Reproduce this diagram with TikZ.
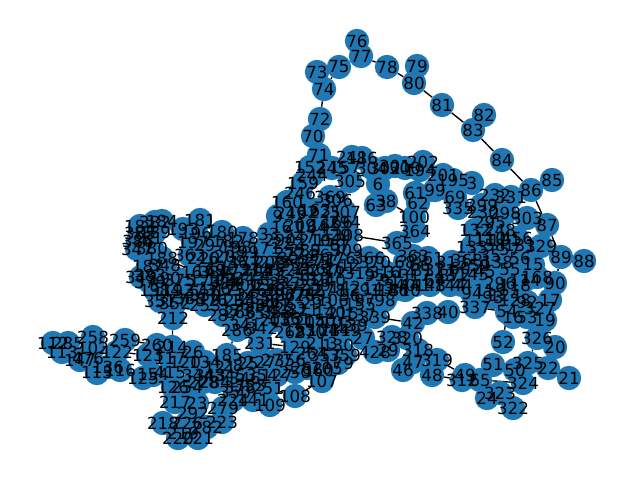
\documentclass[tikz,border=0pt]{standalone}
\usepackage{fontspec}
\setmainfont{DejaVu Sans}
\usetikzlibrary{backgrounds}
\definecolor{nxblue}{HTML}{1F78B4}
\tikzset{
  dot/.style={circle,fill=nxblue,draw=none,minimum size=24.4pt,inner sep=0pt},
  lbl/.style={inner sep=0pt,font=\fontsize{16.67}{17}\selectfont,text=black},
  edge/.style={draw=black,line width=1.35pt}
}
\def\nodelist{76/357/41,77/361/56,78/387/67,79/417/66,80/414/83,81/442/105,82/484/115,83/473/130,84/502/160,75/339/67,73/317/72,74/324/89,72/320/119,70/313/136,71/319/155,
85/552/180,86/531/190,87/547/225,303/527/218,88/584/261,89/561/257,90/555/283,329/541/246,331/511/197,298/505/213,
17/550/300,327/540/308,19/545/320,20/555/347,21/569/378,22/548/368,326/537/338,325/528/363,324/523/383,322/513/408,323/500/393,24/487/398,51/493/365,52/503/342,50/515/370,49/465/375,312/462/380,65/480/380,48/432/375,46/403/370,319/437/360,318/418/350,47/413/362,42/413/323,338/427/313,40/448/312,337/475/307,93/493/297,94/472/293,54/507/312,16/513/317,53/527/317,92/527/302,168/537/277,15/533/265,296/500/283,145/473/275,144/450/285,
184/162/221,181/200/220,183/140/226,385/140/233,386/138/241,347/137/249,189/155/232,193/183/229,196/196/233,197/193/242,180/222/232,182/228/241,198/236/247,199/243/252,178/243/238,
188/162/258,348/165/265,187/148/266,349/141/277,190/165/278,191/155/290,192/178/290,351/160/301,352/175/303,212/173/318,253/205/305,216/203/258,
167/197/272,169/210/270,170/222/268,172/235/270,173/205/281,174/222/280,175/230/291,176/215/288,177/245/262,200/245/285,205/258/270,206/270/262,207/215/258,208/230/256,
112/53/343,285/68/343,258/93/337,259/125/340,122/117/352,123/148/355,260/157/345,214/172/347,113/62/352,102/93/348,147/80/360,476/88/358,115/97/373,136/108/367,116/120/370,125/143/378,154/153/375,415/170/373,117/170/358,120/185/362,26/193/352,134/205/362,185/227/355,121/220/367,
126/173/387,217/175/402,218/163/423,254/187/387,228/203/382,284/215/382,23/197/403,279/223/408,292/193/413,223/222/422,282/207/427,226/187/423,220/178/438,221/198/438,219/183/433,
152/310/167,245/332/168,157/345/168,241/352/157,186/362/158,244/312/175,159/303/183,246/300/193,305/350/181,369/330/197,306/337/200,307/345/212,160/287/202,6/378/184,304/372/168,302/385/168,301/395/166,202/423/162,194/420/170,300/405/168,201/443/175,195/453/180,99/435/190,61/415/193,62/418/203,38/386/201,63/376/205,100/414/217,364/415/231,365/397/243,69/455/197,335/458/208,3/472/183,232/495/195,230/483/212,299/482/205,132/475/230,295/490/222,248/500/230,456/517/238,133/472/247,135/485/255,138/497/262,368/467/260,313/452/262,363/413/256,361/428/258,
9/278/216,249/291/213,161/287/227,33/269/234,247/300/237,171/265/248,308/348/235,309/347/250,366/369/258,164/312/227,165/325/225,166/337/222,67/340/245,367/325/255,162/302/212,163/315/210,
315/360/273,314/400/272,316/385/272,370/375/262,317/415/275,311/428/270,371/440/270,372/455/275,142/345/287,291/365/290,143/378/288,146/393/290,310/405/290,340/400/285,441/415/285,148/430/285,
286/237/330,231/260/343,287/223/315,355/260/313,358/277/312,233/290/308,321/303/310,203/275/320,204/310/322,268/290/332,270/310/332,104/323/330,281/335/330,149/345/330,103/337/322,215/343/313,155/360/305,339/375/317,27/363/338,428/375/352,29/388/350,
328/392/337,320/407/338,106/333/300,293/317/303,387/280/295,374/300/293,129/295/347,264/312/353,213/322/343,130/338/345,179/338/363,105/327/368,262/307/368,250/295/372,107/322/381,108/295/396,127/277/375,251/268/388,109/270/405,141/253/400,277/277/360,227/260/362,25/248/363,28/233/365,378/240/387,224/233/400,
211/225/300,234/240/300,235/255/298,236/270/285,237/285/283,238/300/280,239/315/285,240/330/280,242/250/278,243/265/275,252/280/270,255/295/265,256/310/268,257/325/270,261/340/268,263/262/290,265/275/300,266/240/312,267/290/295,269/310/295,271/320/260,272/290/253,273/275/262,274/300/255,275/315/262,276/340/258,278/330/290,
1/255/258,4/268/270,5/282/278,7/295/288,8/305/275,10/320/278,11/335/272,12/350/265,13/260/285,14/245/295,18/275/290,30/288/258,31/302/268,32/312/290,34/235/280,35/225/275,36/238/262,37/250/270,39/265/305,41/280/305,43/445/275,44/462/285,45/485/272,55/510/270,56/520/258,57/510/250,58/495/245,59/480/265,60/460/268,64/435/280,66/420/265,68/405/262,91/390/280,95/375/275,96/350/295,97/365/300,98/385/300,101/505/240,110/490/238,111/480/240,114/525/280,118/515/285,119/490/290,124/505/295,128/515/300,131/520/245,137/360/315,139/352/325,140/330/312,150/320/320,151/295/320,153/300/330,156/285/318,158/330/240,
209/300/225,210/315/240,222/288/243,225/325/212,229/335/235,289/305/250,290/280/240,294/345/222,
297/210/245,330/205/295,388/190/298,332/215/272,333/235/310,334/225/283,336/250/305,341/245/325,342/262/328,343/210/375,344/198/375,345/230/375,346/245/378,350/235/392,353/250/385,354/262/375,356/290/360,357/325/355,359/345/355,360/318/370,362/190/255,373/200/290,375/180/280,376/212/300,377/172/300,379/150/282,380/152/248,381/147/238,382/155/222,383/150/275,384/165/290}
\begin{document}
\begin{tikzpicture}[x=1pt,y=-1pt]
\useasboundingbox (0,0) rectangle (640,480);
\foreach \i/\x/\y in \nodelist {\node[dot] (n\i) at (\x,\y) {};}
\begin{scope}[on background layer]
\draw[edge] (n74)--(n72) (n72)--(n70) (n70)--(n71) (n73)--(n74) (n74)--(n75) (n75)--(n77) (n76)--(n77) (n77)--(n78) (n78)--(n80) (n79)--(n80) (n80)--(n81) (n81)--(n83) (n82)--(n83) (n83)--(n84) (n84)--(n86) (n85)--(n86) (n86)--(n87) (n87)--(n89) (n88)--(n89) (n89)--(n90)
(n212)--(n214) (n286)--(n231) (n286)--(n185) (n231)--(n129) (n259)--(n260) (n122)--(n123) (n116)--(n125) (n49)--(n319) (n48)--(n312) (n338)--(n42) (n42)--(n320) (n338)--(n40) (n92)--(n93) (n337)--(n54) (n51)--(n50) (n52)--(n54) (n100)--(n62) (n100)--(n38) (n38)--(n6) (n364)--(n100) (n365)--(n364) (n63)--(n38) (n108)--(n107) (n108)--(n251) (n188)--(n167) (n348)--(n167) (n325)--(n326) (n323)--(n65) (n65)--(n324) (n69)--(n62) (n339)--(n42) (n27)--(n339) (n129)--(n250) (n129)--(n268) (n234)--(n286) (n184)--(n183) (n181)--(n196) (n315)--(n309) (n93)--(n144) (n308)--(n365) (n320)--(n318) (n251)--(n127) (n133)--(n368) (n132)--(n133) (n317)--(n363);
\end{scope}
\foreach \i/\x/\y in \nodelist {\node[lbl] at (n\i) {\i};}
\end{tikzpicture}
\end{document}
